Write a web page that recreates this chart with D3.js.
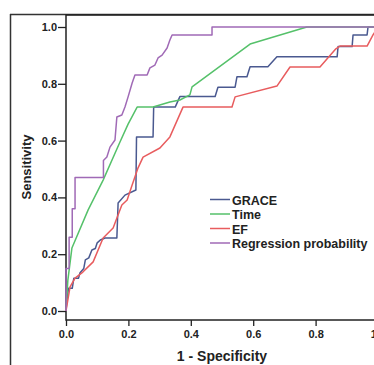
<!DOCTYPE html>
<html>
<head>
<meta charset="utf-8">
<script src="https://cdn.jsdelivr.net/npm/d3@7"></script>
<style>
  body { margin: 0; background: #fff; }
  svg { display: block; font-family: "Liberation Sans", Arial, sans-serif; }
  .tick text { font-weight: bold; }
</style>
</head>
<body>
<div id="chart"></div>
<script>
// ROC curves, points as [1 - specificity, sensitivity]
var grace = [[0,0],[0.003,0.04],[0.008,0.08],[0.02,0.08],[0.025,0.115],[0.04,0.115],[0.045,0.135],
  [0.057,0.15],[0.062,0.18],[0.073,0.187],[0.083,0.215],[0.094,0.22],[0.1,0.24],[0.11,0.25],
  [0.125,0.257],[0.163,0.257],[0.167,0.38],[0.189,0.408],[0.224,0.426],[0.226,0.613],[0.279,0.613],
  [0.281,0.718],[0.35,0.718],[0.365,0.755],[0.478,0.755],[0.487,0.788],[0.542,0.788],[0.548,0.825],
  [0.58,0.825],[0.59,0.86],[0.647,0.86],[0.676,0.895],[0.869,0.895],[0.872,0.931],[0.917,0.931],
  [0.92,0.972],[0.965,0.972],[0.968,1],[1,1]];

var time = [[0,0],[0.003,0.056],[0.006,0.109],[0.019,0.222],[0.071,0.356],[0.119,0.461],
  [0.173,0.595],[0.199,0.658],[0.228,0.718],[0.279,0.718],[0.333,0.736],[0.365,0.743],
  [0.397,0.761],[0.404,0.789],[0.59,0.94],[0.654,0.961],[0.772,1],[1,1]];

var ef = [[0,0],[0.013,0.085],[0.029,0.116],[0.054,0.137],[0.087,0.173],[0.119,0.257],
  [0.151,0.292],[0.179,0.373],[0.196,0.391],[0.212,0.444],[0.231,0.504],[0.247,0.542],
  [0.301,0.574],[0.333,0.613],[0.375,0.718],[0.532,0.718],[0.542,0.754],[0.676,0.792],
  [0.718,0.859],[0.814,0.859],[0.865,0.923],[0.878,0.933],[0.965,0.933],[0.984,0.972],[1,1]];

var regression = [[0,0],[0,0.15],[0.01,0.15],[0.01,0.26],[0.02,0.26],[0.02,0.36],[0.029,0.36],
  [0.029,0.47],[0.12,0.47],[0.12,0.53],[0.131,0.542],[0.141,0.577],[0.157,0.602],[0.163,0.683],
  [0.179,0.69],[0.189,0.718],[0.199,0.754],[0.212,0.803],[0.221,0.831],[0.26,0.831],[0.269,0.856],
  [0.285,0.866],[0.295,0.891],[0.308,0.901],[0.324,0.926],[0.333,0.954],[0.34,0.972],[0.468,0.972],
  [0.468,1],[1,1]];

var seriesNames = ['GRACE', 'Time', 'EF', 'Regression probability'];
var seriesData = [grace, time, ef, regression];
var seriesColors = ['#4a5990', '#55c16a', '#e85c5e', '#a06ab6'];

var xTicks = [0, 0.2, 0.4, 0.6, 0.8, 1.0];
var yTicks = [0, 0.2, 0.4, 0.6, 0.8, 1.0];

var width = 374, height = 365;

var svg = d3.select('#chart').append('svg')
  .attr('width', width)
  .attr('height', height);

// outer frame (only left and top edges are visible in the crop)
svg.append('line').attr('x1', 10.5).attr('x2', 10.5).attr('y1', 14).attr('y2', height)
  .attr('stroke', '#333').attr('stroke-width', 1.5);
svg.append('line').attr('x1', 10).attr('x2', width).attr('y1', 14.5).attr('y2', 14.5)
  .attr('stroke', '#333').attr('stroke-width', 1.5);

var plotLeft = 66, plotTop = 15, plotBottom = 320;

var x = d3.scaleLinear().domain([0, 1]).range([66, 378]);
var y = d3.scaleLinear().domain([0, 1]).range([311, 27]);

// plot box
svg.append('rect')
  .attr('x', plotLeft).attr('y', plotTop)
  .attr('width', 400).attr('height', plotBottom - plotTop)
  .attr('fill', 'none').attr('stroke', '#222').attr('stroke-width', 1.5);

var xAxis = svg.append('g')
  .attr('transform', 'translate(0,' + plotBottom + ')')
  .call(d3.axisBottom(x).tickValues(xTicks).tickFormat(d3.format('.1f')).tickSize(6).tickPadding(4));
var yAxis = svg.append('g')
  .attr('transform', 'translate(' + plotLeft + ',0)')
  .call(d3.axisLeft(y).tickValues(yTicks).tickFormat(d3.format('.1f')).tickSize(8).tickPadding(1));

[xAxis, yAxis].forEach(function(a) {
  a.select('.domain').remove();
  a.selectAll('.tick line').attr('stroke', '#222').attr('stroke-width', 1.3);
  a.selectAll('.tick text').attr('fill', '#222').style('font-size', '11px');
});

// axis titles
svg.append('text')
  .attr('x', 222).attr('y', 361)
  .attr('text-anchor', 'middle')
  .style('font-size', '14px').style('font-weight', 'bold').attr('fill', '#222')
  .text('1 - Specificity');

svg.append('text')
  .attr('transform', 'translate(31,167) rotate(-90)')
  .attr('text-anchor', 'middle')
  .style('font-size', '13px').style('font-weight', 'bold').attr('fill', '#222')
  .text('Sensitivity');

// curves
var line = d3.line()
  .x(function(d) { return x(d[0]); })
  .y(function(d) { return y(d[1]); });

svg.append('g').selectAll('path')
  .data(seriesData)
  .enter().append('path')
  .attr('d', line)
  .attr('fill', 'none')
  .attr('stroke', function(d, i) { return seriesColors[i]; })
  .attr('stroke-width', 1.5)
  .attr('stroke-linejoin', 'round');

// legend
var legend = svg.append('g').selectAll('g')
  .data(seriesNames)
  .enter().append('g')
  .attr('transform', function(d, i) { return 'translate(210,' + (200.5 + i * 14.5) + ')'; });

legend.append('line')
  .attr('x1', 0).attr('x2', 20).attr('y1', -1).attr('y2', -1)
  .attr('stroke', function(d, i) { return seriesColors[i]; })
  .attr('stroke-width', 1.5);

legend.append('text')
  .attr('x', 22).attr('y', 0)
  .attr('dy', '0.35em')
  .style('font-size', '12.5px').style('font-weight', 'bold').attr('fill', '#222')
  .text(function(d) { return d; });
</script>
</body>
</html>
